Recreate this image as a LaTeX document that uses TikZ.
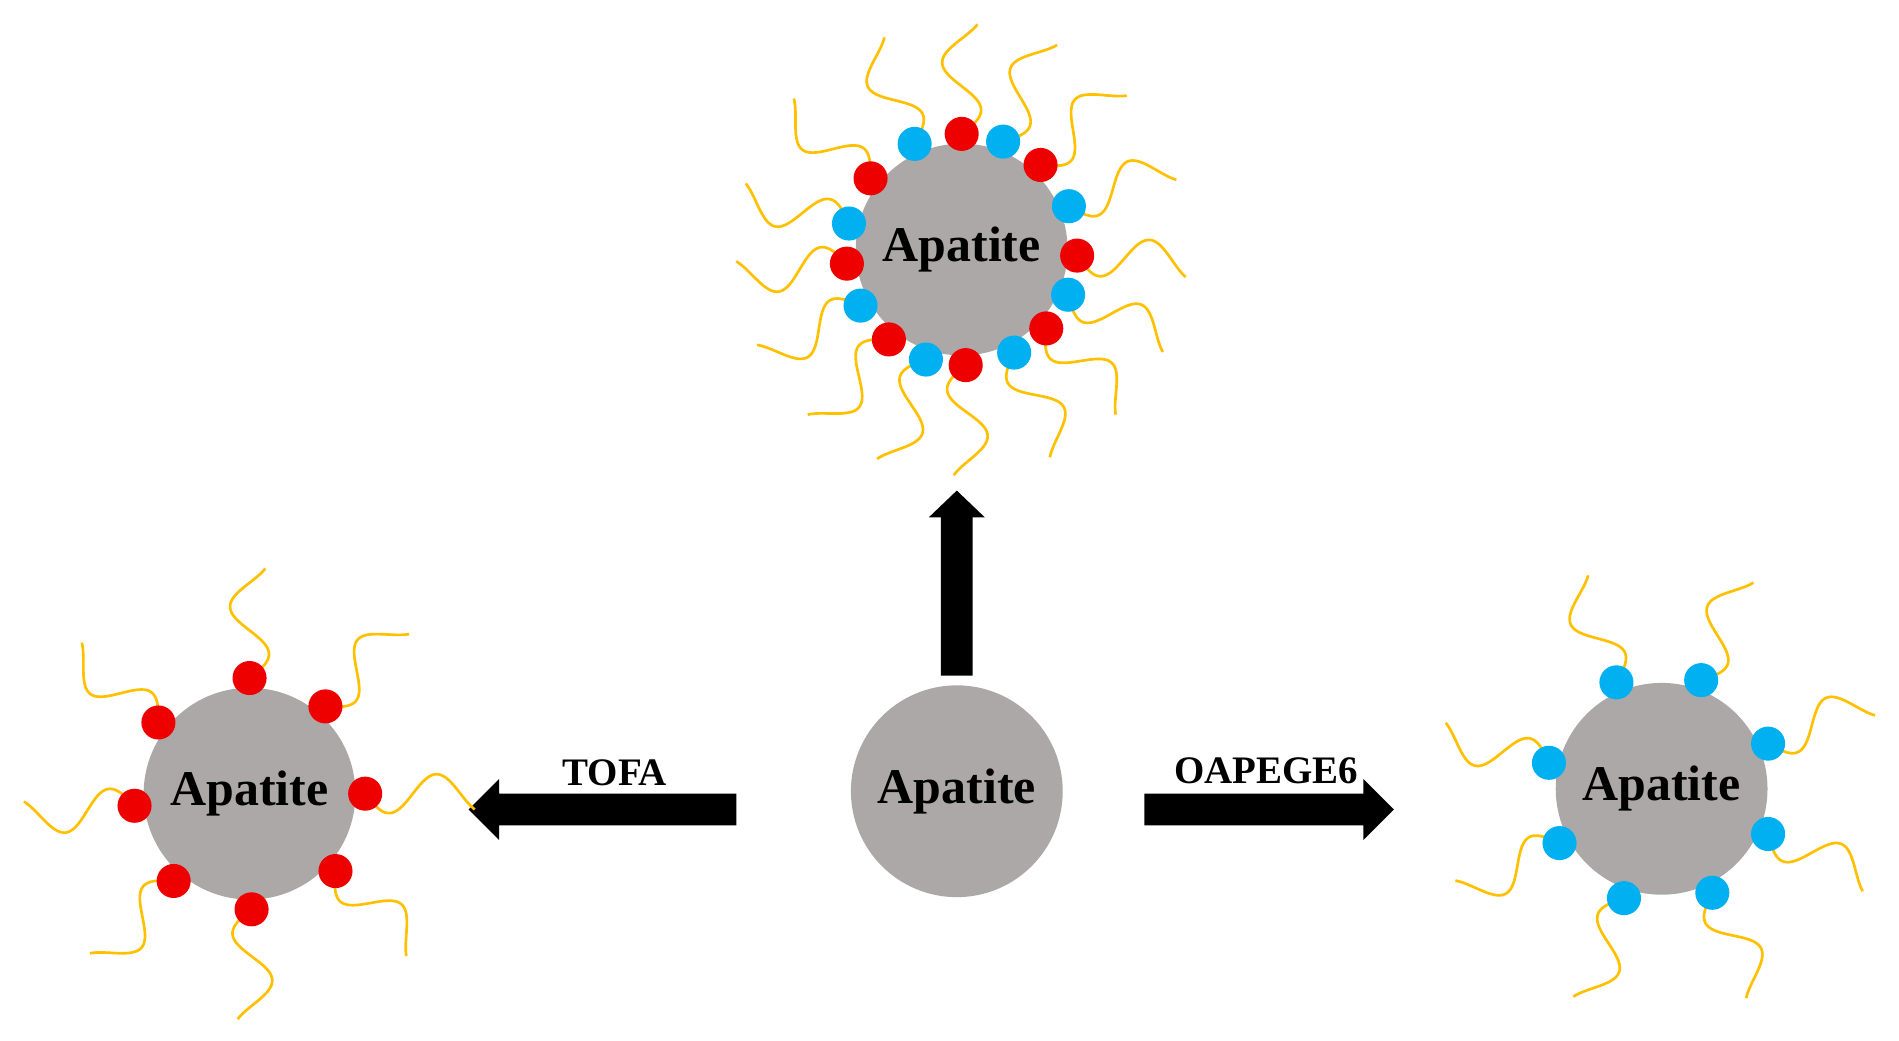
\documentclass[tikz,border=0pt]{standalone}
\usepackage{fontspec}
\setmainfont{Liberation Serif}
\definecolor{core}{RGB}{172,168,168}
\definecolor{rd}{RGB}{238,0,0}
\definecolor{bl}{RGB}{0,176,240}
\definecolor{yl}{RGB}{255,192,0}
\tikzset{
 core/.style={circle,fill=core,minimum size=87pt,inner sep=0pt,font=\bfseries\fontsize{20.5}{24}\selectfont},
 bead/.style={circle,minimum size=14pt,inner sep=0pt},
 tailc/.style={yl,line width=1.1pt},
 lbl/.style={font=\bfseries\fontsize{16}{19}\selectfont},
 fat/.style={fill=black}
}
\newcommand\mytail[3]{% node, angle, color
 \begin{scope}[shift={(#1)},rotate=#2]
 \draw[tailc] plot[domain=0:90,samples=50,smooth] ({95+\x},{16*sin(\x*4.6)});
 \node[bead,fill=#3] at (95,0) {};
 \end{scope}}
\begin{document}
\begin{tikzpicture}[x=0.5pt,y=-0.5pt]
\useasboundingbox (0,0) rectangle (1560,855);
\node[core] (c) at (786,650) {Apatite};
\node[core] (l) at (205,652) {Apatite};
\node[core] (t) at (790,205) {Apatite};
\node[core] (r) at (1365,648) {Apatite};
% arrows
\fill[fat] (773,555) -- (773,425) -- (763,425) -- (786,403) -- (809,425) -- (799,425) -- (799,555) -- cycle;
\fill[fat] (605,652) -- (410,652) -- (410,640) -- (385,665) -- (410,690) -- (410,678) -- (605,678) -- cycle;
\fill[fat] (940,652) -- (1120,652) -- (1120,640) -- (1145,665) -- (1120,690) -- (1120,678) -- (940,678) -- cycle;
\node[lbl] (tofa) at (505,635) {TOFA};
\node[lbl] (oap) at (1040,633) {OAPEGE6};
% left
\foreach \a in {0,42,89,131,174,218,270,311} {\mytail{l}{-\a}{rd}}
% right
\foreach \a in {109,64,23,-23,-70,247,193,152} {\mytail{r}{-\a}{bl}}
% top
\foreach \a/\c in {88/rd,63/bl,43/rd,23/bl,3/rd,-22/bl,-47/rd,-69/bl,-90/rd,-114/bl,-142/rd,-167/bl,173/rd,151/bl,129/rd,108/bl} {\mytail{t}{-\a}{\c}}
\end{tikzpicture}
\end{document}
